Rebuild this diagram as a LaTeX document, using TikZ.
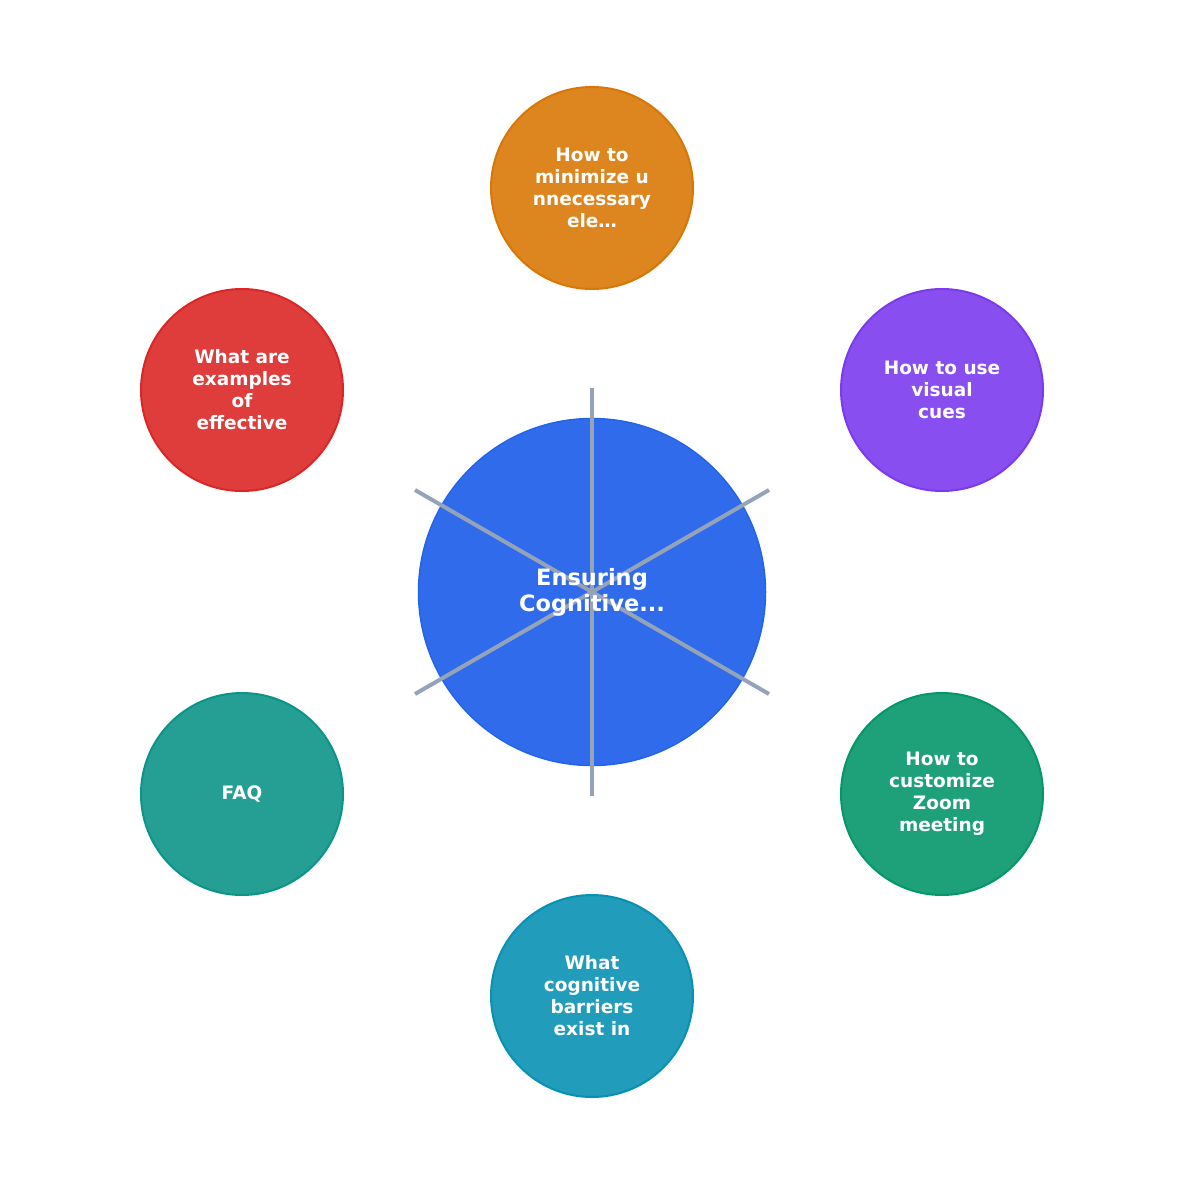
\documentclass[tikz,border=0pt]{standalone}
\usepackage{fontspec}
\setmainfont{DejaVu Sans}
\begin{document}
\begin{tikzpicture}[x=1pt,y=-1pt,
  leaf/.style={circle,minimum size=202pt,inner sep=0pt,line width=2pt,text=white,
    font=\bfseries\fontsize{18.5}{22}\selectfont,align=center},
  hub/.style={circle,minimum size=347pt,inner sep=0pt,line width=1.5pt,
    draw=hubc,fill=hubc!95!white},
  hubtext/.style={text=white,font=\bfseries\fontsize{22.5}{26}\selectfont,align=center},
  spoke/.style={draw=spokec,line width=4pt}]
\definecolor{hubc}{HTML}{2563EB}
\definecolor{spokec}{HTML}{94A3B8}
\definecolor{c1}{HTML}{D97706}
\definecolor{c2}{HTML}{7C3AED}
\definecolor{c3}{HTML}{059669}
\definecolor{c4}{HTML}{0891B2}
\definecolor{c5}{HTML}{0D9488}
\definecolor{c6}{HTML}{DC2626}
\useasboundingbox (0,0) rectangle (1185,1185);
\node[hub] (hub) at (592,592) {};
\coordinate (e1) at (592,388);
\coordinate (e2) at (769,490);
\coordinate (e3) at (769,694);
\coordinate (e4) at (592,796);
\coordinate (e5) at (415,694);
\coordinate (e6) at (415,490);
\foreach \e in {e1,e2,e3,e4,e5,e6}{\draw[spoke] (hub.center) -- (\e);}
\node[hubtext] (hubt) at (592,592) {Ensuring\\Cognitive...};
\node[leaf,draw=c1,fill=c1!90!white] (n1) at (592,188) {How to\\minimize u\\nnecessary\\ele…};
\node[leaf,draw=c2,fill=c2!90!white] (n2) at (942,390) {How to use\\visual\\cues};
\node[leaf,draw=c3,fill=c3!90!white] (n3) at (942,794) {How to\\customize\\Zoom\\meeting};
\node[leaf,draw=c4,fill=c4!90!white] (n4) at (592,996) {What\\cognitive\\barriers\\exist in};
\node[leaf,draw=c5,fill=c5!90!white] (n5) at (242,794) {FAQ};
\node[leaf,draw=c6,fill=c6!90!white] (n6) at (242,390) {What are\\examples\\of\\effective};
\end{tikzpicture}
\end{document}
